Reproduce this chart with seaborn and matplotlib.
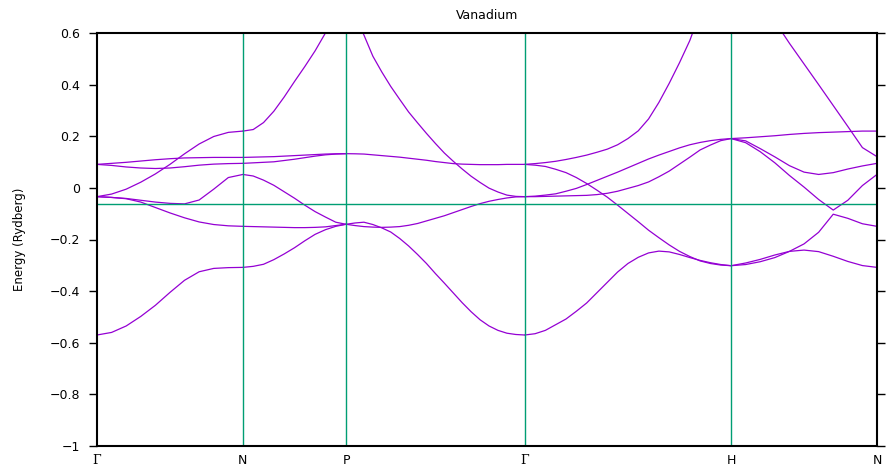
import numpy as np
import pandas as pd
import matplotlib
matplotlib.use("Agg")
import matplotlib.pyplot as plt
import seaborn as sns

# ---------------- data ----------------
title = "Vanadium"
ylabel = "Energy (Rydberg)"
kpoint_labels = ["Γ", "N", "P", "Γ", "H", "N"]
kpoint_dist = [0.0, 0.7071, 1.2071, 2.0731, 3.0731, 3.7802]
fermi_energy = -0.0625
yticks = [-1, -0.8, -0.6, -0.4, -0.2, 0, 0.2, 0.4, 0.6]

# fractional positions along the k-path segments where energies were read
t_coarse = [0.0, 0.1, 0.2, 0.3, 0.4, 0.5, 0.6, 0.7, 0.8, 0.9, 1.0]
t_fine = [0.0, 0.05, 0.1, 0.15, 0.2, 0.25, 0.3, 0.35, 0.4, 0.45, 0.5,
          0.55, 0.6, 0.65, 0.7, 0.75, 0.8, 0.85, 0.9, 0.95, 1.0]

bands_G_N = [
    [-0.570, -0.560, -0.535, -0.498, -0.455, -0.405, -0.358, -0.325, -0.312, -0.309, -0.308],
    [-0.034, -0.037, -0.042, -0.055, -0.076, -0.097, -0.116, -0.132, -0.142, -0.147, -0.149],
    [-0.034, -0.037, -0.041, -0.048, -0.055, -0.060, -0.062, -0.047, -0.005, 0.040, 0.052],
    [-0.034, -0.024, -0.005, 0.022, 0.054, 0.091, 0.132, 0.170, 0.199, 0.215, 0.220],
    [0.091, 0.087, 0.081, 0.077, 0.075, 0.077, 0.082, 0.088, 0.092, 0.094, 0.095],
    [0.091, 0.095, 0.099, 0.104, 0.109, 0.113, 0.116, 0.117, 0.118, 0.118, 0.118],
]
bands_N_P = [
    [-0.308, -0.304, -0.296, -0.278, -0.256, -0.232, -0.205, -0.180, -0.162, -0.149, -0.141],
    [-0.149, -0.150, -0.151, -0.152, -0.153, -0.154, -0.154, -0.153, -0.151, -0.146, -0.141],
    [0.052, 0.046, 0.030, 0.010, -0.015, -0.040, -0.067, -0.092, -0.113, -0.133, -0.141],
    [0.095, 0.097, 0.099, 0.101, 0.106, 0.111, 0.117, 0.123, 0.128, 0.131, 0.1325],
    [0.118, 0.119, 0.120, 0.121, 0.123, 0.125, 0.127, 0.129, 0.131, 0.132, 0.1325],
    [0.220, 0.226, 0.253, 0.297, 0.352, 0.412, 0.470, 0.531, 0.600, 0.665, 0.720],
]
bands_P_G = [
    [-0.141, -0.136, -0.133, -0.142, -0.155, -0.171, -0.196, -0.225, -0.258, -0.293, -0.332,
     -0.369, -0.407, -0.445, -0.480, -0.511, -0.535, -0.552, -0.563, -0.568, -0.570],
    [-0.141, -0.146, -0.150, -0.152, -0.153, -0.152, -0.150, -0.145, -0.138, -0.128, -0.118,
     -0.108, -0.096, -0.084, -0.072, -0.061, -0.052, -0.045, -0.039, -0.035, -0.034],
    [0.1325, 0.132, 0.131, 0.128, 0.125, 0.122, 0.119, 0.115, 0.111, 0.107, 0.102,
     0.098, 0.094, 0.092, 0.091, 0.090, 0.090, 0.090, 0.091, 0.091, 0.091],
    [0.720, 0.670, 0.592, 0.510, 0.449, 0.393, 0.343, 0.294, 0.252, 0.211, 0.172,
     0.135, 0.103, 0.073, 0.045, 0.021, -0.001, -0.016, -0.028, -0.033, -0.034],
]
bands_G_H = [
    [-0.570, -0.565, -0.552, -0.530, -0.508, -0.478, -0.446, -0.406, -0.366, -0.326, -0.293,
     -0.269, -0.252, -0.245, -0.248, -0.258, -0.270, -0.281, -0.290, -0.297, -0.3015],
    [0.091, 0.088, 0.083, 0.072, 0.059, 0.040, 0.017, -0.009, -0.036, -0.067, -0.099,
     -0.131, -0.164, -0.193, -0.221, -0.246, -0.266, -0.283, -0.293, -0.299, -0.3015],
    [-0.034, -0.032, -0.028, -0.023, -0.013, -0.002, 0.013, 0.029, 0.045, 0.061, 0.078,
     0.095, 0.112, 0.127, 0.141, 0.155, 0.167, 0.176, 0.183, 0.188, 0.191],
    [-0.034, -0.034, -0.033, -0.032, -0.031, -0.030, -0.029, -0.026, -0.021, -0.013, -0.002,
     0.009, 0.023, 0.043, 0.065, 0.092, 0.119, 0.147, 0.166, 0.183, 0.191],
    [0.091, 0.094, 0.098, 0.103, 0.110, 0.118, 0.127, 0.138, 0.150, 0.167, 0.191,
     0.221, 0.267, 0.331, 0.405, 0.485, 0.571, 0.680, 0.780, 0.870, 0.950],
]
bands_H_N = [
    [0.191, 0.194, 0.198, 0.202, 0.207, 0.211, 0.214, 0.216, 0.218, 0.220, 0.220],
    [0.191, 0.182, 0.152, 0.120, 0.086, 0.061, 0.052, 0.059, 0.073, 0.085, 0.095],
    [0.191, 0.175, 0.140, 0.097, 0.048, 0.003, -0.045, -0.086, -0.048, 0.009, 0.052],
    [-0.3015, -0.297, -0.286, -0.270, -0.246, -0.217, -0.172, -0.102, -0.118, -0.139, -0.149],
    [-0.3015, -0.291, -0.277, -0.260, -0.246, -0.241, -0.247, -0.265, -0.285, -0.301, -0.308],
    [0.950, 0.820, 0.730, 0.645, 0.560, 0.480, 0.400, 0.319, 0.238, 0.156, 0.121],
]

# ---------------- build long table ----------------
segments = [
    (t_coarse, bands_G_N),
    (t_coarse, bands_N_P),
    (t_fine, bands_P_G),
    (t_fine, bands_G_H),
    (t_coarse, bands_H_N),
]
rows = []
for s, (tgrid, bands) in enumerate(segments):
    k0, k1 = kpoint_dist[s], kpoint_dist[s + 1]
    for b, energies in enumerate(bands):
        for t, e in zip(tgrid, energies):
            rows.append({"k": k0 + t * (k1 - k0), "E": e, "curve": f"{s}-{b}"})
df = pd.DataFrame(rows)

# ---------------- plot ----------------
sns.set_theme(style="ticks")
plt.rcParams["font.family"] = ["DejaVu Sans"]
plt.rcParams["text.color"] = "black"
plt.rcParams["axes.labelcolor"] = "black"
plt.rcParams["xtick.color"] = "black"
plt.rcParams["ytick.color"] = "black"

band_color = "#9400d3"
line_color = "#009e73"

fig, ax = plt.subplots(figsize=(8.86, 4.72), dpi=100)
fig.subplots_adjust(left=97 / 886, right=877 / 886, bottom=1 - 446 / 472, top=1 - 33 / 472)

sns.lineplot(data=df, x="k", y="E", units="curve", estimator=None, sort=False,
             color=band_color, lw=0.9, ax=ax, legend=False, zorder=2)

for k in kpoint_dist[1:-1]:
    ax.axvline(k, color=line_color, lw=1.0, zorder=3)
ax.axhline(fermi_energy, color=line_color, lw=1.0, zorder=3)

ax.set_xlim(kpoint_dist[0], kpoint_dist[-1])
ax.set_ylim(-1, 0.6)
ax.set_yticks(yticks)
ax.set_yticklabels(["−1" if v == -1 else ("0" if v == 0 else f"{v:g}".replace("-", "−")) for v in yticks])
ax.set_xticks(kpoint_dist)
ax.set_xticklabels(kpoint_labels)
for lbl in ax.get_xticklabels():
    if lbl.get_text() == "Γ":
        lbl.set_fontfamily("DejaVu Serif")

ax.tick_params(axis="y", which="both", left=True, right=True, direction="out",
               length=6, width=1, color="black", labelsize=9, pad=6)
ax.tick_params(axis="x", length=0, labelsize=9, pad=6)

for sp in ax.spines.values():
    sp.set_visible(True)
    sp.set_color("black")
    sp.set_linewidth(1.5)
    sp.set_zorder(5)

ax.set_xlabel("")
ax.set_ylabel(ylabel, fontsize=8.5, labelpad=17)
ax.set_title(title, fontsize=9, pad=10)

fig.savefig("out.png", dpi=100)
